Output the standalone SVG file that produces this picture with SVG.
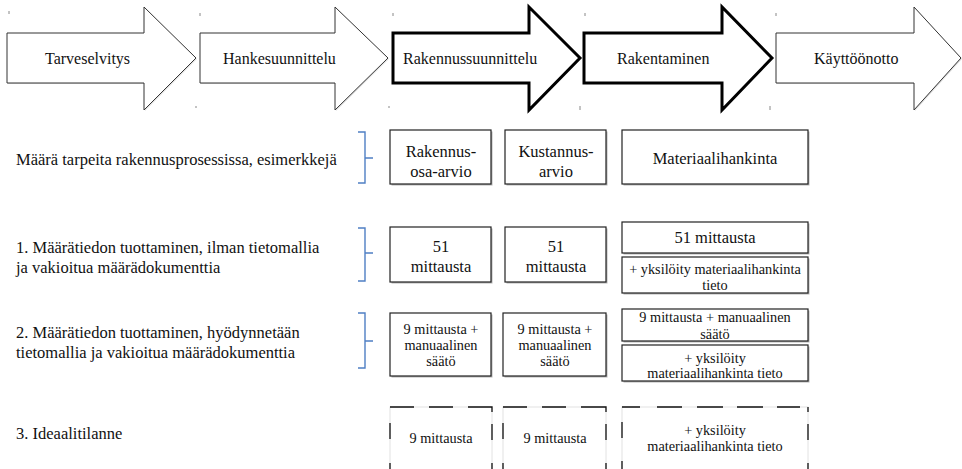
<svg xmlns="http://www.w3.org/2000/svg" width="962" height="469" viewBox="0 0 962 469" font-family="'Liberation Serif', 'DejaVu Serif', serif">
  <style>
    text { font-family: "Liberation Serif", "DejaVu Serif", serif; fill: #111; }
    .lbl { font-size: 16.5px; }
    .big { font-size: 16.5px; text-anchor: middle; }
    .sm { font-size: 14.3px; text-anchor: middle; }
    .ar { font-size: 16px; }
    .thin { fill: #fff; stroke: #333; stroke-width: 1; }
    .bold { fill: #fff; stroke: #000; stroke-width: 3; }
    .box { fill: #fff; stroke: #222; stroke-width: 1.2; }
    .shd { fill: #b5b5b5; }
    .brace { fill: none; stroke: #4f7fc4; stroke-width: 1.4; }
    .dash { stroke: #111; stroke-width: 1.3; fill: none; }
    .faint { fill: #fff; stroke: #e2e2e2; stroke-width: 1; }
    .tick { stroke: #888; stroke-width: 1; }
  </style>

  <rect width="962" height="469" fill="#fff"/>

  <!-- process phases -->
  <g id="phase-tarveselvitys">
    <polygon class="shd" points="8,34 145,34 145,8 197,59 145,111 145,84 8,84" opacity="0.4"/>
    <polygon class="thin" points="7,33 144,33 144,7 196,58 144,110 144,83 7,83"/>
    <text class="ar" x="45" y="64">Tarveselvitys</text>
  </g>
  <g id="phase-hankesuunnittelu">
    <polygon class="shd" points="201,34 336,34 336,8 389,59 336,111 336,84 201,84" opacity="0.4"/>
    <polygon class="thin" points="200,33 335,33 335,7 388,58 335,110 335,83 200,83"/>
    <text class="ar" x="223" y="64">Hankesuunnittelu</text>
  </g>
  <g id="phase-rakennussuunnittelu">
    <polygon class="bold" points="393,33 529,33 529,7 580,58 529,110 529,83 393,83"/>
    <text class="ar" x="403" y="64">Rakennussuunnittelu</text>
  </g>
  <g id="phase-rakentaminen">
    <polygon class="bold" points="584,33 722,33 722,7 772,58 722,110 722,83 584,83"/>
    <text class="ar" x="617" y="64">Rakentaminen</text>
  </g>
  <g id="phase-kayttoonotto">
    <polygon class="shd" points="777,34 915,34 915,8 962,59 915,111 915,84 777,84" opacity="0.4"/>
    <polygon class="thin" points="776,33 914,33 914,7 961,58 914,110 914,83 776,83"/>
    <text class="ar" x="814" y="64">Käyttöönotto</text>
  </g>

  <!-- small corner marks -->
  <g id="marks">
    <line class="tick" x1="9" y1="11" x2="9" y2="14"/>
    <line class="tick" x1="200" y1="13" x2="200" y2="16"/>
    <line class="tick" x1="195" y1="107" x2="197" y2="107"/>
    <line class="tick" x1="393" y1="13" x2="393" y2="16"/>
    <line class="tick" x1="388" y1="107" x2="390" y2="107"/>
    <line class="tick" x1="585" y1="13" x2="585" y2="16"/>
    <line class="tick" x1="580" y1="106" x2="580" y2="110"/>
    <line class="tick" x1="776" y1="13" x2="776" y2="16"/>
    <line class="tick" x1="770" y1="106" x2="770" y2="110"/>
  </g>

  <!-- row labels -->
  <g id="label-0"><text class="lbl" x="16" y="165">Määrä tarpeita rakennusprosessissa, esimerkkejä</text></g>
  <g id="label-1">
    <text class="lbl" x="16" y="253">1. Määrätiedon tuottaminen, ilman tietomallia</text>
    <text class="lbl" x="16" y="273">ja vakioitua määrädokumenttia</text>
  </g>
  <g id="label-2">
    <text class="lbl" x="16" y="338">2. Määrätiedon tuottaminen, hyödynnetään</text>
    <text class="lbl" x="16" y="358">tietomallia ja vakioitua määrädokumenttia</text>
  </g>
  <g id="label-3"><text class="lbl" x="16" y="439">3. Ideaalitilanne</text></g>

  <!-- braces -->
  <g id="connectors">
    <path class="brace" d="M358,132 H365 V183 H358 M365,158 H373"/>
    <path class="brace" d="M358,228 H365 V281 H358 M365,253 H373"/>
    <path class="brace" d="M358,313 H365 V368 H358 M365,341 H373"/>
  </g>

  <!-- row 0 -->
  <g id="r0-rakennusosa">
    <rect class="shd" x="391.5" y="131.5" width="101" height="54"/>
    <rect class="box" x="390" y="130" width="101" height="54"/>
    <text class="big" x="441" y="157">Rakennus-</text>
    <text class="big" x="441" y="177">osa-arvio</text>
  </g>
  <g id="r0-kustannus">
    <rect class="shd" x="506.5" y="131.5" width="101" height="54"/>
    <rect class="box" x="505" y="130" width="101" height="54"/>
    <text class="big" x="556" y="157">Kustannus-</text>
    <text class="big" x="556" y="177">arvio</text>
  </g>
  <g id="r0-materiaali">
    <rect class="shd" x="623.5" y="131.5" width="186" height="54"/>
    <rect class="box" x="622" y="130" width="186" height="54"/>
    <text class="big" x="715" y="164">Materiaalihankinta</text>
  </g>

  <!-- row 1 -->
  <g id="r1-rakennusosa">
    <rect class="shd" x="391.5" y="228.5" width="101" height="55"/>
    <rect class="box" x="390" y="227" width="101" height="55"/>
    <text class="big" x="441" y="252">51</text>
    <text class="big" x="441" y="272">mittausta</text>
  </g>
  <g id="r1-kustannus">
    <rect class="shd" x="506.5" y="228.5" width="101" height="55"/>
    <rect class="box" x="505" y="227" width="101" height="55"/>
    <text class="big" x="556" y="252">51</text>
    <text class="big" x="556" y="272">mittausta</text>
  </g>
  <g id="r1-materiaali">
    <rect class="shd" x="623.5" y="223.5" width="186" height="31"/>
    <rect class="box" x="622" y="222" width="186" height="31"/>
    <text class="big" x="715" y="243">51 mittausta</text>
    <rect class="shd" x="623.5" y="258.5" width="186" height="36"/>
    <rect class="box" x="622" y="257" width="186" height="36"/>
    <text class="sm" x="715" y="274">+ yksilöity materiaalihankinta</text>
    <text class="sm" x="715" y="290">tieto</text>
  </g>

  <!-- row 2 -->
  <g id="r2-rakennusosa">
    <rect class="shd" x="391.5" y="314.5" width="101" height="63"/>
    <rect class="box" x="390" y="313" width="101" height="63"/>
    <text class="sm" x="441" y="334">9 mittausta +</text>
    <text class="sm" x="441" y="350">manuaalinen</text>
    <text class="sm" x="441" y="366">säätö</text>
  </g>
  <g id="r2-kustannus">
    <rect class="shd" x="504.5" y="314.5" width="103" height="63"/>
    <rect class="box" x="503" y="313" width="103" height="63"/>
    <text class="sm" x="555" y="334">9 mittausta +</text>
    <text class="sm" x="555" y="350">manuaalinen</text>
    <text class="sm" x="555" y="366">säätö</text>
  </g>
  <g id="r2-materiaali">
    <rect class="shd" x="623.5" y="310.5" width="186" height="32"/>
    <rect class="box" x="622" y="309" width="186" height="32"/>
    <text class="sm" x="715" y="322">9 mittausta + manuaalinen</text>
    <text class="sm" x="715" y="339">säätö</text>
    <rect class="shd" x="623.5" y="346.5" width="186" height="36"/>
    <rect class="box" x="622" y="345" width="186" height="36"/>
    <text class="sm" x="715" y="363">+ yksilöity</text>
    <text class="sm" x="715" y="378">materiaalihankinta tieto</text>
  </g>

  <!-- row 3: ideal case, dashed outlines -->
  <g id="r3-rakennusosa">
    <rect class="faint" x="390" y="407" width="102" height="70"/>
    <path class="dash" d="M390,407 H414 M429,407 H453 M468,407 H492 V412 M492,424 V440 M492,463 V469 M390,423 V439 M390,463 V469"/>
    <text class="sm" x="441" y="443">9 mittausta</text>
  </g>
  <g id="r3-kustannus">
    <rect class="faint" x="503" y="407" width="103" height="70"/>
    <path class="dash" d="M503,407 H527 M542,407 H566 M581,407 H606 V412 M606,424 V440 M606,463 V469 M503,423 V439 M503,463 V469"/>
    <text class="sm" x="555" y="443">9 mittausta</text>
  </g>
  <g id="r3-materiaali">
    <rect class="faint" x="622" y="407" width="186" height="70"/>
    <path class="dash" d="M622,407 H640 M657,407 H682 M697,407 H723 M737,407 H763 M777,407 H800 M808,407 V412 M808,424 V440 M808,463 V469 M622,422 V438 M622,461 V469"/>
    <text class="sm" x="715" y="435">+ yksilöity</text>
    <text class="sm" x="715" y="451">materiaalihankinta tieto</text>
  </g>
</svg>
